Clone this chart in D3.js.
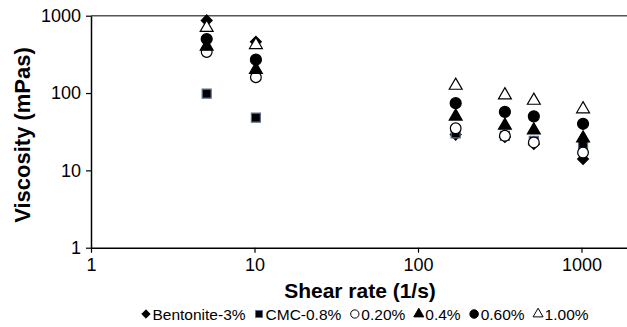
<!DOCTYPE html>
<html>
<head>
<meta charset="utf-8">
<script src="https://cdn.jsdelivr.net/npm/d3@7"></script>
<style>
  body { margin: 0; background: #fff; }
  svg { display: block; font-family: "Liberation Sans", Arial, sans-serif; }
</style>
</head>
<body>
<div id="chart"></div>
<script>
// shear rate (1/s) and viscosity (mPas) per fluid
var shearRate = [5.1, 10.2, 170, 340, 511, 1022];
var bentonite = [870, 460, 29, 27, 22, 14];
var cmc = [98, 48, 30, 28, 24, 22];
var pct020 = [340, 160, 35, 28, 23, 17];
var pct04 = [400, 200, 50, 38, 33, 26];
var pct060 = [500, 270, 74, 57, 50, 40];
var pct100 = [700, 420, 125, 94, 80, 62];

var seriesNames = ['Bentonite-3%', 'CMC-0.8%', '0.20%', '0.4%', '0.60%', '1.00%'];
var seriesValues = [bentonite, cmc, pct020, pct04, pct060, pct100];
var xTicks = [1, 10, 100, 1000];
var yTicks = [1, 10, 100, 1000];

var width = 627, height = 327;
var plotLeft = 91, plotTop = 15.7, plotBottom = 247.7;

var svg = d3.select('#chart')
  .append('svg')
    .attr('width', width)
    .attr('height', height);

var x = d3.scaleLog()
  .domain([1, Math.pow(10, (width - plotLeft) / 163.5)])
  .range([plotLeft, width]);
var y = d3.scaleLog()
  .domain([1, 1000])
  .range([plotBottom, plotTop]);

// marker look per series
function marker(i) {
  var styles = [
    {type: d3.symbolDiamond2, size: 75, fill: '#000', stroke: '#000'},
    {type: d3.symbolSquare, size: 81, fill: '#000', stroke: '#5b6e92'},
    {type: d3.symbolCircle, size: 90, fill: '#fff', stroke: '#000'},
    {type: d3.symbolTriangle, size: 72, fill: '#000', stroke: '#000'},
    {type: d3.symbolCircle, size: 95, fill: '#000', stroke: '#000'},
    {type: d3.symbolTriangle, size: 72, fill: '#fff', stroke: '#000'}
  ];
  return styles[i];
}

// top border
svg.append('line')
  .attr('x1', plotLeft).attr('x2', width)
  .attr('y1', plotTop).attr('y2', plotTop)
  .attr('stroke', '#555').attr('stroke-width', 1.5);

var xAxis = svg.append('g')
  .attr('transform', 'translate(0,' + plotBottom + ')')
  .call(d3.axisBottom(x).tickValues(xTicks).tickFormat(d3.format('d')).tickSize(5).tickSizeOuter(0));
var yAxis = svg.append('g')
  .attr('transform', 'translate(' + plotLeft + ',0)')
  .call(d3.axisLeft(y).tickValues(yTicks).tickFormat(d3.format('d')).tickSize(5).tickSizeOuter(0));

[xAxis, yAxis].forEach(function (a) {
  a.select('.domain').attr('stroke', '#000').attr('stroke-width', 1.5);
  a.selectAll('.tick line').attr('stroke', '#000').attr('stroke-width', 1.2);
  a.selectAll('.tick text')
    .attr('fill', '#000')
    .style('font-size', '18px')
    .style('font-family', '"Liberation Sans", Arial, sans-serif');
});
xAxis.selectAll('.tick text').attr('dy', '0.95em').attr('y', 6);
yAxis.selectAll('.tick text').attr('x', -10);

// points
seriesValues.forEach(function (vals, i) {
  var m = marker(i);
  svg.append('g')
    .selectAll('path')
    .data(vals)
    .enter()
      .append('path')
        .attr('d', d3.symbol().type(m.type).size(m.size))
        .attr('transform', function (d, j) {
          return 'translate(' + x(shearRate[j]) + ',' + y(d) + ')';
        })
        .attr('fill', m.fill)
        .attr('stroke', m.stroke)
        .attr('stroke-width', 1.2);
});

// axis titles
svg.append('text')
  .attr('x', 360).attr('y', 298)
  .attr('text-anchor', 'middle')
  .style('font-size', '21px').style('font-weight', 'bold')
  .text('Shear rate (1/s)');
svg.append('text')
  .attr('transform', 'translate(30,135) rotate(-90)')
  .attr('text-anchor', 'middle')
  .style('font-size', '22px').style('font-weight', 'bold')
  .text('Viscosity (mPas)');

// legend, laid out left to right
var legend = svg.append('g');
var lx = 0;
seriesNames.forEach(function (name, i) {
  var m = marker(i);
  legend.append('path')
    .attr('d', d3.symbol().type(m.type).size(m.size * 0.6))
    .attr('transform', 'translate(' + (lx + 4.5) + ',314)')
    .attr('fill', m.fill)
    .attr('stroke', m.stroke)
    .attr('stroke-width', 1);
  var t = legend.append('text')
    .attr('x', lx + 11).attr('y', 319.5)
    .style('font-size', '15.5px')
    .text(name);
  lx += 11 + t.node().getComputedTextLength() + 9;
});
var lw = lx - 9;
legend.attr('transform', 'translate(' + (365 - lw / 2) + ',0)');
</script>
</body>
</html>
